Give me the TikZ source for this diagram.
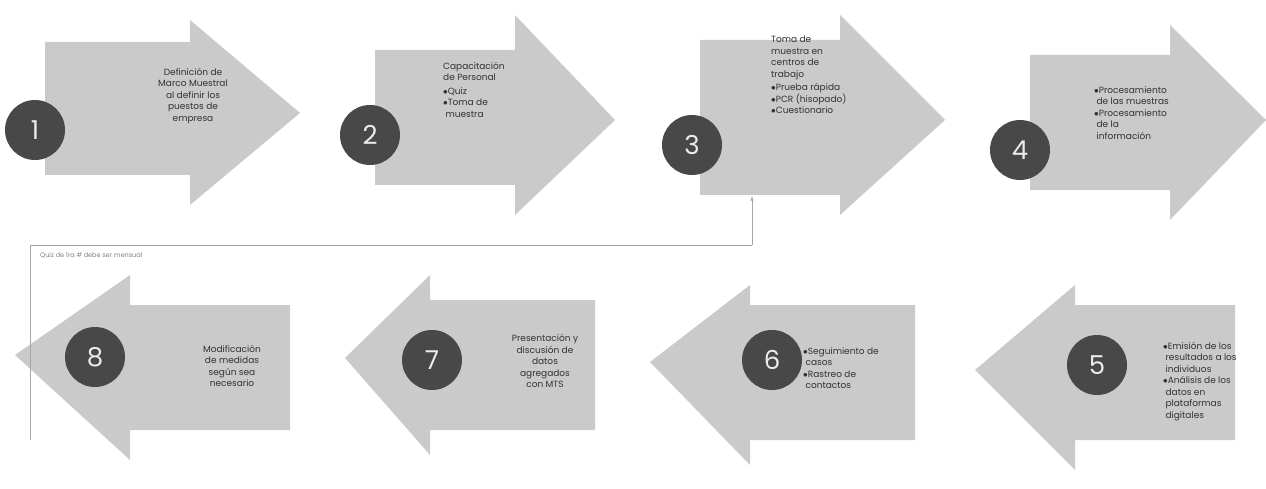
\documentclass[tikz,border=0pt]{standalone}
\usepackage{fontspec}
\setmainfont{Poppins}
\usetikzlibrary{positioning}
\definecolor{arrowgray}{RGB}{202,202,202}
\definecolor{circlegray}{RGB}{72,72,72}
\definecolor{textgray}{RGB}{50,50,50}
\begin{document}
\begin{tikzpicture}[x=1pt,y=-1pt,
    procarrow/.style={fill=arrowgray},
    num node/.style={circle,fill=circlegray,minimum size=60pt,inner sep=0pt,
        text=white!85!gray,font=\fontsize{26}{28}\selectfont},
    step text/.style={text=textgray,font=\fontsize{9}{11.5}\selectfont,inner sep=0pt},
    note line/.style={draw=gray!70,line width=0.6pt}]

    % Background and bounds
    \useasboundingbox (0,0) rectangle (1266,489);

    % Top row arrows (pointing right)
    \fill[procarrow] (45,42) -- (190,42) -- (190,20) -- (300,113) -- (190,205) -- (190,175) -- (45,175) -- cycle;
    \fill[procarrow] (375,50) -- (515,50) -- (515,15) -- (615,120) -- (515,215) -- (515,185) -- (375,185) -- cycle;
    \fill[procarrow] (700,40) -- (840,40) -- (840,15) -- (945,120) -- (840,215) -- (840,195) -- (700,195) -- cycle;
    \fill[procarrow] (1030,55) -- (1170,55) -- (1170,25) -- (1266,120) -- (1170,220) -- (1170,190) -- (1030,190) -- cycle;

    % Bottom row arrows (pointing left)
    \fill[procarrow] (290,305) -- (130,305) -- (130,275) -- (15,355) -- (130,460) -- (130,430) -- (290,430) -- cycle;
    \fill[procarrow] (595,300) -- (430,300) -- (430,275) -- (345,358) -- (430,455) -- (430,430) -- (595,430) -- cycle;
    \fill[procarrow] (915,305) -- (750,305) -- (750,285) -- (650,362) -- (750,465) -- (750,440) -- (915,440) -- cycle;
    \fill[procarrow] (1235,305) -- (1075,305) -- (1075,285) -- (975,370) -- (1075,470) -- (1075,440) -- (1235,440) -- cycle;

    % Number circles
    \node[num node] (n1) at (35,130) {1};
    \node[num node] (n2) at (370,135) {2};
    \node[num node] (n3) at (692,145) {3};
    \node[num node] (n4) at (1020,150) {4};
    \node[num node] (n8) at (95,357) {8};
    \node[num node] (n7) at (432,360) {7};
    \node[num node] (n6) at (772,360) {6};
    \node[num node] (n5) at (1097,365) {5};

    % Step texts
    \node[step text,align=center] (t1) at (193,96) {Definición de\\Marco Muestral\\al definir los\\puestos de\\empresa};
    \node[step text,align=left,anchor=north west] (t2) at (443,62) {Capacitación\\de Personal\\[2pt]$\bullet$Quiz\\$\bullet$Toma de\\\ muestra};
    \node[step text,align=left,anchor=north west] (t3) at (771,36) {Toma de\\muestra en\\centros de\\trabajo\\[2pt]$\bullet$Prueba rápida\\$\bullet$PCR (hisopado)\\$\bullet$Cuestionario};
    \node[step text,align=left,anchor=north west] (t4) at (1094,86) {$\bullet$Procesamiento\\\ de las muestras\\$\bullet$Procesamiento\\\ de la\\\ información};
    \node[step text,align=center] (t8) at (232,366) {Modificación\\de medidas\\según sea\\necesario};
    \node[step text,align=center] (t7) at (545,361) {Presentación y\\discusión de\\datos\\agregados\\con MTS};
    \node[step text,align=left,anchor=north west] (t6) at (803,347) {$\bullet$Seguimiento de\\\ casos\\$\bullet$Rastreo de\\\ contactos};
    \node[step text,align=left,anchor=north west] (t5) at (1163,342) {$\bullet$Emisión de los\\\ resultados a los\\\ individuos\\$\bullet$Análisis de los\\\ datos en\\\ plataformas\\\ digitales};

    % Feedback note and connector
    \coordinate (c0) at (30,440);
    \coordinate (c1) at (30,245);
    \coordinate (c2) at (752,245);
    \coordinate (a3) at (752,196);
    \draw[note line] (c0) -- (c1) -- (c2);
    \draw[note line,-latex] (c2) -- (a3);
    \node[text=gray,font=\fontsize{6.5}{8}\selectfont,anchor=north west,inner sep=0pt] (note) at (40,252) {Quiz de 1ra \# debe ser mensual};

\end{tikzpicture}
\end{document}
